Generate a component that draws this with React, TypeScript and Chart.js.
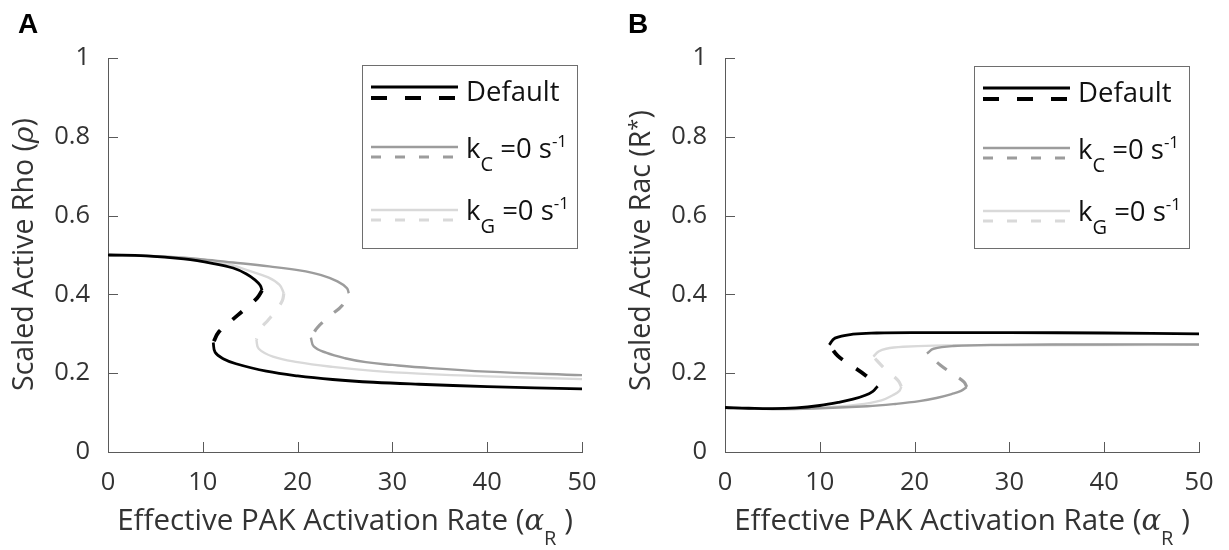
import React, { useEffect, useRef } from 'react';
import { Chart, registerables } from 'chart.js';

Chart.register(...registerables);

// ---------- tick values / labels ----------
const xTicks = [0, 10, 20, 30, 40, 50];
const xTickLabels = ['0', '10', '20', '30', '40', '50'];
const yTicks = [0, 0.2, 0.4, 0.6, 0.8, 1];
const yTickLabels = ['0', '0.2', '0.4', '0.6', '0.8', '1'];

// ---------- Panel A: Scaled Active Rho vs alpha_R ----------
const rhoDefaultUpper = [[0, 0.5], [4, 0.498], [8, 0.49], [11, 0.479], [13.2, 0.467], [14.6, 0.452], [15.5, 0.437], [16.05, 0.423], [16.25, 0.41]];
const rhoDefaultMid = [[16.25, 0.41], [15.7, 0.39], [14.3, 0.36], [13.0, 0.333], [11.7, 0.305], [11.1, 0.278]];
const rhoDefaultLower = [[11.1, 0.278], [11.3, 0.253], [12.2, 0.236], [13.5, 0.224], [16.7, 0.205], [20, 0.193], [23.7, 0.184], [28, 0.177], [32.8, 0.172], [40, 0.166], [50, 0.16]];

const rhoKcUpper = [[0, 0.5], [5, 0.497], [10, 0.489], [13.2, 0.481], [17, 0.471], [20.2, 0.461], [22.5, 0.449], [24.2, 0.433], [25.2, 0.416], [25.4, 0.403]];
const rhoKcMid = [[25.4, 0.403], [24.7, 0.372], [23.5, 0.347], [22.1, 0.316], [21.4, 0.29]];
const rhoKcLower = [[21.4, 0.29], [21.7, 0.268], [23, 0.252], [25, 0.238], [27.2, 0.228], [30, 0.221], [32.8, 0.215], [40, 0.204], [50, 0.195]];

const rhoKgUpper = [[0, 0.5], [8, 0.494], [12, 0.481], [15, 0.459], [16.9, 0.443], [18.1, 0.424], [18.55, 0.403]];
const rhoKgMid = [[18.55, 0.403], [18.4, 0.385], [17.75, 0.36], [16.9, 0.335], [16.0, 0.31], [15.65, 0.285]];
const rhoKgLower = [[15.65, 0.285], [15.9, 0.262], [17.4, 0.242], [20, 0.228], [23.7, 0.216], [28, 0.206], [32.8, 0.199], [40, 0.192], [50, 0.185]];

// ---------- Panel B: Scaled Active Rac vs alpha_R ----------
const racDefaultLower = [[0, 0.113], [2.5, 0.111], [5, 0.11], [7.5, 0.112], [10, 0.118], [12, 0.126], [13.5, 0.134], [14.8, 0.144], [15.6, 0.154], [16.1, 0.167]];
const racDefaultMid = [[16.1, 0.167], [14.8, 0.195], [13.5, 0.217], [11.9, 0.244], [11.0, 0.272]];
const racDefaultUpper = [[11.0, 0.272], [11.6, 0.289], [13.5, 0.299], [16, 0.302], [20.6, 0.303], [30, 0.303], [40, 0.302], [50, 0.3]];

const racKcLower = [[0, 0.113], [5, 0.109], [10, 0.111], [15, 0.116], [18, 0.122], [20.5, 0.129], [22.3, 0.137], [23.9, 0.147], [24.9, 0.155], [25.5, 0.165]];
const racKcMid = [[25.5, 0.165], [25.2, 0.178], [24.2, 0.195], [22.7, 0.221], [21.3, 0.25]];
const racKcUpper = [[21.3, 0.25], [22, 0.262], [24.1, 0.269], [29, 0.272], [40, 0.273], [50, 0.273]];

const racKgLower = [[0, 0.113], [5, 0.109], [10, 0.112], [14, 0.12], [16.5, 0.131], [17.7, 0.144], [18.4, 0.155], [18.6, 0.166]];
const racKgMid = [[18.6, 0.166], [18.3, 0.18], [17.6, 0.196], [16.7, 0.215], [15.65, 0.242]];
const racKgUpper = [[15.65, 0.242], [16.2, 0.255], [17, 0.262], [18.8, 0.267], [22, 0.27], [30, 0.271], [50, 0.272]];

// ---------- styling ----------
const FONT = '"Open Sans", "Noto Sans", sans-serif';
const TEXT = '#333333';
const AXIS = '#5a5a5a';
const BLACK = '#000000';
const MID = '#9c9c9c';
const LIGHT = '#d9d9d9';

type Pair = number[];
type Series = { color: string; upper: Pair[]; mid: Pair[]; lower: Pair[]; w: number; dw: number; dash: number[]; off: number };

const toPts = (arr: Pair[]) => arr.map(([x, y]) => ({ x, y }));

function buildDatasets(series: Series[]) {
  const ds: any[] = [];
  series.forEach((s, i) => {
    const common = { borderColor: s.color, backgroundColor: s.color, pointRadius: 0, pointHoverRadius: 0, fill: false, tension: 0.4, order: i, borderCapStyle: 'butt' };
    ds.push({ ...common, data: toPts(s.upper), borderWidth: s.w });
    ds.push({ ...common, data: toPts(s.mid), borderWidth: s.dw, borderDash: s.dash, borderDashOffset: s.off });
    ds.push({ ...common, data: toPts(s.lower), borderWidth: s.w });
  });
  return ds;
}

type Part = { t: string; font: string; dy?: number };

function richWidth(ctx: CanvasRenderingContext2D, parts: Part[]) {
  let w = 0;
  for (const p of parts) {
    ctx.font = p.font;
    w += ctx.measureText(p.t).width;
  }
  return w;
}

function drawRich(ctx: CanvasRenderingContext2D, parts: Part[], x: number, y: number, align: 'left' | 'center') {
  ctx.textAlign = 'left';
  ctx.textBaseline = 'alphabetic';
  let cx = align === 'center' ? x - richWidth(ctx, parts) / 2 : x;
  for (const p of parts) {
    ctx.font = p.font;
    ctx.fillText(p.t, cx, y + (p.dy || 0));
    cx += ctx.measureText(p.t).width;
  }
}

const overlayPlugin = {
  id: 'overlay',
  afterDraw(chart: any, _args: any, opts: any) {
    const ctx: CanvasRenderingContext2D = chart.ctx;
    const { left, right, bottom } = chart.chartArea;
    const xs = chart.scales.x;
    const ys = chart.scales.y;
    ctx.save();
    // inward ticks
    ctx.strokeStyle = AXIS;
    ctx.lineWidth = 1;
    ctx.beginPath();
    for (const v of xTicks) {
      const px = Math.round(xs.getPixelForValue(v)) + 0.5;
      ctx.moveTo(px, bottom);
      ctx.lineTo(px, bottom - 10);
    }
    for (const v of yTicks) {
      const py = Math.round(ys.getPixelForValue(v)) + 0.5;
      ctx.moveTo(left, py);
      ctx.lineTo(left + 10, py);
    }
    ctx.stroke();

    // x title
    ctx.fillStyle = TEXT;
    const big = `29.5px ${FONT}`;
    drawRich(ctx, [
      { t: 'Effective PAK Activation Rate (', font: big },
      { t: 'α', font: `italic 29px "DejaVu Serif", serif` },
      { t: 'R', font: `20px ${FONT}`, dy: 15 },
      { t: ' )', font: big },
    ], (left + right) / 2, 530, 'center');

    // y title (rotated)
    ctx.save();
    ctx.translate(opts.yTitleX, 391);
    ctx.rotate(-Math.PI / 2);
    drawRich(ctx, opts.yTitle, 0, 0, 'left');
    ctx.restore();

    // panel label
    ctx.fillStyle = '#000';
    ctx.font = `bold 28px "Liberation Sans", Arial, sans-serif`;
    ctx.textAlign = 'left';
    ctx.textBaseline = 'alphabetic';
    ctx.fillText(opts.panel, opts.panelX, 33);

    // legend
    const L = opts.legend.left, T = opts.legend.top, R = opts.legend.right, B = opts.legend.bottom;
    ctx.fillStyle = '#ffffff';
    ctx.fillRect(L, T, R - L, B - T);
    ctx.strokeStyle = '#6e6e6e';
    ctx.lineWidth = 1;
    ctx.strokeRect(L + 0.5, T + 0.5, R - L, B - T);

    const entries = [
      { color: BLACK, sy: 22, dy: 33, by: 36, w: 3, dw: 4, dash: [16, 18], parts: [{ t: 'Default', font: `27.5px ${FONT}` }] },
      { color: MID, sy: 82, dy: 92, by: 93, w: 2.5, dw: 3, dash: [10, 14], parts: [
        { t: 'k', font: `27.5px ${FONT}` }, { t: 'C', font: `20px ${FONT}`, dy: 13 }, { t: ' =0 s', font: `27.5px ${FONT}` }, { t: '-1', font: `17px ${FONT}`, dy: -11 },
      ] },
      { color: LIGHT, sy: 145, dy: 155, by: 155, w: 2.5, dw: 3, dash: [10, 14], parts: [
        { t: 'k', font: `27.5px ${FONT}` }, { t: 'G', font: `20px ${FONT}`, dy: 13 }, { t: ' =0 s', font: `27.5px ${FONT}` }, { t: '-1', font: `17px ${FONT}`, dy: -11 },
      ] },
    ];
    for (const e of entries) {
      ctx.strokeStyle = e.color;
      ctx.lineCap = 'butt';
      ctx.setLineDash([]);
      ctx.lineWidth = e.w;
      ctx.beginPath();
      ctx.moveTo(L + 9, T + e.sy);
      ctx.lineTo(L + 96, T + e.sy);
      ctx.stroke();
      ctx.setLineDash(e.dash);
      ctx.lineWidth = e.dw;
      ctx.beginPath();
      ctx.moveTo(L + 9, T + e.dy);
      ctx.lineTo(L + 96, T + e.dy);
      ctx.stroke();
      ctx.setLineDash([]);
      ctx.fillStyle = '#111';
      drawRich(ctx, e.parts as Part[], L + 104, T + e.by, 'left');
    }
    ctx.restore();
  },
};

type PanelProps = {
  left: number; width: number; axisLeft: number; axisRight: number;
  series: Series[]; opts: any;
};

function Panel({ left, width, axisLeft, axisRight, series, opts }: PanelProps) {
  const ref = useRef<HTMLCanvasElement | null>(null);
  useEffect(() => {
    if (!ref.current) return;
    const chart = new Chart(ref.current, {
      type: 'line',
      data: { datasets: buildDatasets(series) },
      plugins: [overlayPlugin],
      options: {
        responsive: false,
        animation: false,
        events: [],
        layout: { padding: { top: 58, right: width - axisRight, left: 0, bottom: 0 } },
        plugins: {
          legend: { display: false },
          tooltip: { enabled: false },
          overlay: opts,
        } as any,
        scales: {
          x: {
            type: 'linear', min: 0, max: 50,
            afterBuildTicks: (s: any) => { s.ticks = xTicks.map((v) => ({ value: v })); },
            afterFit: (s: any) => { s.height = 550 - 452; },
            ticks: {
              callback: (_v: any, i: number) => xTickLabels[i],
              font: { family: FONT, size: 25.5 }, color: TEXT, padding: 15, maxRotation: 0, autoSkip: false,
            },
            grid: { display: false, drawTicks: false },
            border: { display: true, color: AXIS, width: 1 },
          },
          y: {
            type: 'linear', min: 0, max: 1,
            afterBuildTicks: (s: any) => { s.ticks = yTicks.map((v) => ({ value: v })); },
            afterFit: (s: any) => { s.width = axisLeft; },
            ticks: {
              callback: (_v: any, i: number) => yTickLabels[i],
              font: { family: FONT, size: 25.5 }, color: TEXT, padding: 18, autoSkip: false,
            },
            grid: { display: false, drawTicks: false },
            border: { display: true, color: AXIS, width: 1 },
          },
        },
      } as any,
    });
    return () => chart.destroy();
  }, []);
  return (
    <canvas ref={ref} width={width} height={550}
      style={{ position: 'absolute', left, top: 0, width, height: 550, display: 'block' }} />
  );
}

const seriesA: Series[] = [
  { color: BLACK, upper: rhoDefaultUpper, mid: rhoDefaultMid, lower: rhoDefaultLower, w: 2.8, dw: 3.8, dash: [13, 16], off: 0 },
  { color: MID, upper: rhoKcUpper, mid: rhoKcMid, lower: rhoKcLower, w: 2.4, dw: 3.2, dash: [12, 15], off: 14 },
  { color: LIGHT, upper: rhoKgUpper, mid: rhoKgMid, lower: rhoKgLower, w: 2.4, dw: 3.2, dash: [12, 15], off: 0 },
];

const seriesB: Series[] = [
  { color: BLACK, upper: racDefaultUpper, mid: racDefaultMid, lower: racDefaultLower, w: 2.8, dw: 3.8, dash: [13, 16], off: 14 },
  { color: MID, upper: racKcUpper, mid: racKcMid, lower: racKcLower, w: 2.4, dw: 3.2, dash: [12, 15], off: 0 },
  { color: LIGHT, upper: racKgUpper, mid: racKgMid, lower: racKgLower, w: 2.4, dw: 3.2, dash: [12, 15], off: 0 },
];

const optsA = {
  panel: 'A', panelX: 18, yTitleX: 33,
  yTitle: [
    { t: 'Scaled Active Rho (', font: `28.5px ${FONT}` },
    { t: 'ρ', font: `italic 28.5px "DejaVu Serif", serif` },
    { t: ')', font: `28.5px ${FONT}` },
  ],
  legend: { left: 362, top: 65, right: 577, bottom: 248 },
};

const optsB = {
  panel: 'B', panelX: 14, yTitleX: 36,
  yTitle: [
    { t: 'Scaled Active Rac (R', font: `28.5px ${FONT}` },
    { t: '*', font: `22px ${FONT}`, dy: -6 },
    { t: ')', font: `28.5px ${FONT}` },
  ],
  legend: { left: 360, top: 66, right: 575, bottom: 248 },
};

export default function App() {
  return (
    <div style={{ position: 'absolute', left: 0, top: 0, width: 1229, height: 550, background: '#fff', overflow: 'hidden' }}>
      <Panel left={0} width={614} axisLeft={108} axisRight={582} series={seriesA} opts={optsA} />
      <Panel left={614} width={615} axisLeft={111} axisRight={585} series={seriesB} opts={optsB} />
    </div>
  );
}
